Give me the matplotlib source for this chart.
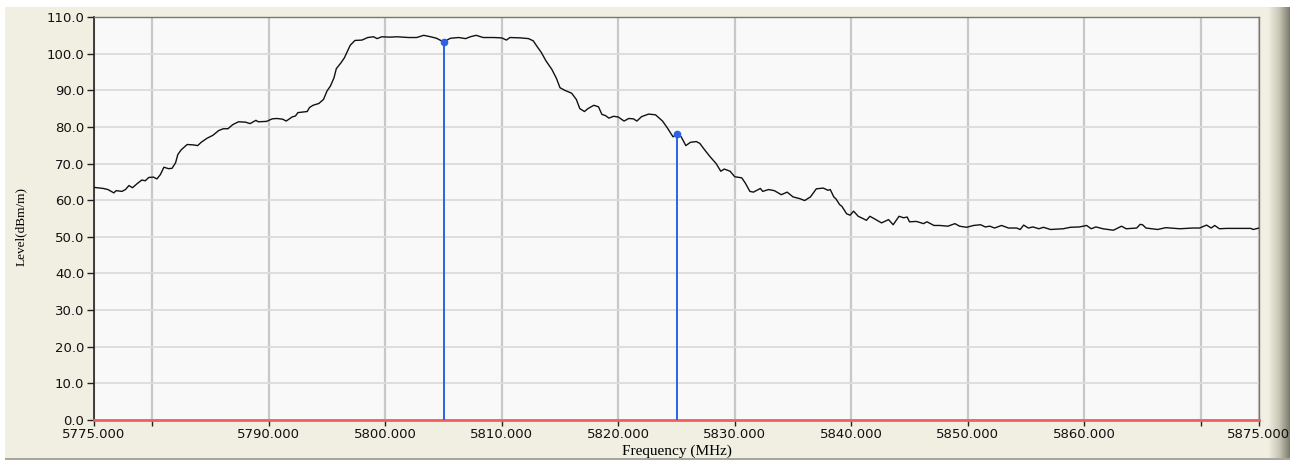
import matplotlib
matplotlib.use("Agg")
import matplotlib.pyplot as plt
import numpy as np
from matplotlib.patches import Rectangle

# trace (MHz, dBm/m)
freq = [5775.0, 5775.8, 5776.2, 5776.7, 5776.9, 5777.4, 5777.7, 5778.0, 5778.3, 5778.7,
        5779.1, 5779.4, 5779.7, 5780.1, 5780.4, 5780.7, 5781.0, 5781.4, 5781.7, 5782.0,
        5782.2, 5782.5, 5783.0, 5783.5, 5783.9, 5784.2, 5784.7, 5785.2, 5785.7, 5786.1,
        5786.5, 5786.9, 5787.4, 5788.0, 5788.4, 5788.9, 5789.1, 5789.8, 5790.3, 5790.7,
        5791.2, 5791.5, 5792.0, 5792.3, 5792.5, 5793.0, 5793.3, 5793.5, 5793.8, 5794.3,
        5794.7, 5795.0, 5795.3, 5795.6, 5795.8, 5796.2, 5796.5, 5796.7, 5797.0, 5797.4,
        5798.0, 5798.5, 5799.0, 5799.3, 5799.7, 5800.4, 5801.0, 5802.0,
        5802.7, 5803.3, 5803.9, 5804.4, 5805.0, 5805.6, 5806.3, 5806.9, 5807.3, 5807.8,
        5808.4, 5809.3, 5810.0, 5810.4, 5810.7, 5811.6, 5812.3, 5812.7, 5813.0, 5813.4,
        5813.8, 5814.3, 5814.7, 5815.0, 5815.4, 5816.0, 5816.4, 5816.7, 5817.1, 5817.4,
        5817.9, 5818.3, 5818.6, 5818.9, 5819.2, 5819.6, 5820.0, 5820.5, 5820.9, 5821.3,
        5821.6, 5822.0, 5822.6, 5823.2, 5823.8, 5824.2, 5824.7, 5825.1, 5825.4, 5825.8,
        5826.2, 5826.7,
        5827.0, 5827.4, 5827.9, 5828.4, 5828.8, 5829.1, 5829.6, 5830.0, 5830.6, 5830.9,
        5831.3, 5831.6, 5832.2, 5832.4, 5832.9, 5833.4, 5834.0, 5834.5, 5835.0, 5835.6,
        5836.0, 5836.5, 5837.0, 5837.6, 5838.0, 5838.2, 5838.5, 5838.7, 5839.0, 5839.2,
        5839.6, 5839.9, 5840.2, 5840.6, 5841.0, 5841.3, 5841.6, 5842.0, 5842.6, 5843.2,
        5843.6, 5844.1, 5844.5, 5844.8, 5845.0, 5845.6, 5846.2, 5846.5, 5847.1, 5847.6,
        5848.3, 5848.9, 5849.3, 5849.9, 5850.5,
        5851.1, 5851.5, 5851.9, 5852.3, 5852.9, 5853.5, 5854.2, 5854.5, 5854.8, 5855.2,
        5855.6, 5856.1, 5856.5, 5857.1, 5858.2, 5858.8, 5859.6, 5860.2, 5860.6, 5861.0,
        5861.6, 5862.5, 5863.2, 5863.6, 5864.5, 5864.8, 5865.0, 5865.3, 5866.3, 5867.0,
        5868.2, 5869.3, 5869.9, 5870.5, 5870.9, 5871.2, 5871.6, 5872.2, 5873.3, 5874.3,
        5874.5, 5875.0]
level = [63.5, 63.2, 62.9, 62.0, 62.6, 62.4, 62.9, 64.0, 63.4, 64.5,
         65.5, 65.3, 66.2, 66.3, 65.8, 67.0, 69.0, 68.6, 68.7, 70.2,
         72.5, 73.8, 75.2, 75.1, 74.9, 75.8, 76.9, 77.7, 79.0, 79.5,
         79.5, 80.6, 81.4, 81.3, 80.9, 81.8, 81.4, 81.5, 82.2, 82.3,
         82.1, 81.6, 82.7, 83.0, 83.9, 84.1, 84.2, 85.3, 85.9, 86.4,
         87.5, 89.8, 91.2, 93.4, 95.9, 97.5, 98.9, 100.3, 102.3, 103.6,
         103.7, 104.4, 104.6, 104.1, 104.6, 104.5, 104.6, 104.4,
         104.4, 105.0, 104.6, 104.2, 103.2, 104.2, 104.4, 104.1, 104.6, 105.0,
         104.4, 104.4, 104.3, 103.7, 104.4, 104.3, 104.1, 103.5, 102.1, 100.3,
         98.0, 95.7, 93.2, 90.7, 90.0, 89.2, 87.5, 85.0, 84.2, 85.0,
         85.9, 85.5, 83.4, 83.1, 82.4, 82.9, 82.7, 81.6, 82.3, 82.2,
         81.6, 82.8, 83.5, 83.3, 81.6, 79.8, 77.3, 78.2, 77.3, 74.9,
         75.8, 76.0,
         75.5, 73.8, 71.8, 70.0, 67.9, 68.5, 67.9, 66.4, 66.1, 64.7,
         62.4, 62.2, 63.2, 62.4, 62.9, 62.6, 61.5, 62.2, 60.9, 60.4,
         59.9, 60.9, 63.1, 63.3, 62.7, 62.9, 60.9, 60.3, 58.8, 58.3,
         56.3, 55.9, 57.0, 55.6, 55.0, 54.5, 55.6, 54.9, 53.8, 54.7,
         53.3, 55.6, 55.2, 55.4, 54.1, 54.2, 53.6, 54.1, 53.1, 53.1,
         52.9, 53.6, 52.9, 52.6, 53.1,
         53.3, 52.7, 52.9, 52.4, 53.1, 52.4, 52.4, 52.0, 53.2, 52.4,
         52.7, 52.2, 52.6, 52.0, 52.2, 52.6, 52.7, 53.1, 52.2, 52.7,
         52.2, 51.8, 52.9, 52.2, 52.4, 53.4, 53.3, 52.4, 52.0, 52.5,
         52.2, 52.4, 52.4, 53.2, 52.4, 53.1, 52.2, 52.3, 52.3, 52.3,
         52.0, 52.4]

marker_freq = [5805.0, 5825.0]
marker_level = [103.2, 78.2]
limit_level = 0.0

xticks = [5775, 5780, 5790, 5800, 5810, 5820, 5830, 5840, 5850, 5860, 5870, 5875]
xticklabels = ["5775.000", "", "5790.000", "5800.000", "5810.000", "5820.000", "5830.000",
               "5840.000", "5850.000", "5860.000", "", "5875.000"]
yticks = np.arange(0, 111, 10)

W, H = 1297, 462
fig = plt.figure(figsize=(W / 100, H / 100), dpi=100, facecolor="white")

# window-ish background
bg = fig.add_axes([0, 0, 1, 1], zorder=-10)
bg.axis("off")
bg.add_patch(Rectangle((5, 7), 1263, 452, color="#f1efe2", lw=0))
grad = np.linspace(0, 1, 50)[None, :]
bg.imshow(grad, extent=(1268, 1290, 459, 7), aspect="auto",
          cmap=matplotlib.colors.LinearSegmentedColormap.from_list("f", ["#f1efe2", "#c9c7b6", "#7c7a6c"]))
bg.add_patch(Rectangle((5, 458), 1285, 2, color="#a8a89a", lw=0))
bg.set_xlim(0, W)
bg.set_ylim(H, 0)

ax = fig.add_axes([94 / W, 1 - 420 / H, (1259 - 94) / W, (420 - 17) / H])
ax.set_facecolor("#f9f9f9")

ax.set_xlim(5775, 5875)
ax.set_ylim(0, 110)

ax.set_xticks(xticks)
ax.set_xticklabels(xticklabels)
ax.set_yticks(yticks)
ax.set_yticklabels(["%.1f" % v for v in yticks])

ax.xaxis.grid(True, color="#c8c8c8", lw=1.6)
ax.yaxis.grid(True, color="#dcdcdc", lw=1.3)
ax.set_axisbelow(True)

ax.tick_params(axis="both", direction="out", length=5, width=1, color="#222222",
               labelsize=9.5, labelcolor="#111111")
ax.tick_params(axis="x", length=4, pad=2)
ax.tick_params(axis="y", pad=2)

for s in ["top", "right"]:
    ax.spines[s].set_color("#777777")
    ax.spines[s].set_linewidth(1)
ax.spines["left"].set_color("#222222")
ax.spines["left"].set_linewidth(1.2)
ax.spines["bottom"].set_color("#f06464")

ax.axhline(limit_level, color="#f06060", lw=2, zorder=4, clip_on=False)

ax.plot(freq, level, color="#111111", lw=1.0, zorder=3)

ax.vlines(marker_freq, 0, marker_level, color="#2a62e6", lw=1.4, zorder=5)
ax.plot(marker_freq, marker_level, "o", color="#2a62e6", ms=4.5, zorder=6)

ax.set_xlabel("Frequency (MHz)", family="Liberation Serif", fontsize=11, labelpad=2)
ax.set_ylabel("Level(dBm/m)", family="Liberation Serif", fontsize=9.5)
ax.yaxis.set_label_coords(-0.058, 0.48)

fig.savefig("out.png", dpi=100, facecolor=fig.get_facecolor())
